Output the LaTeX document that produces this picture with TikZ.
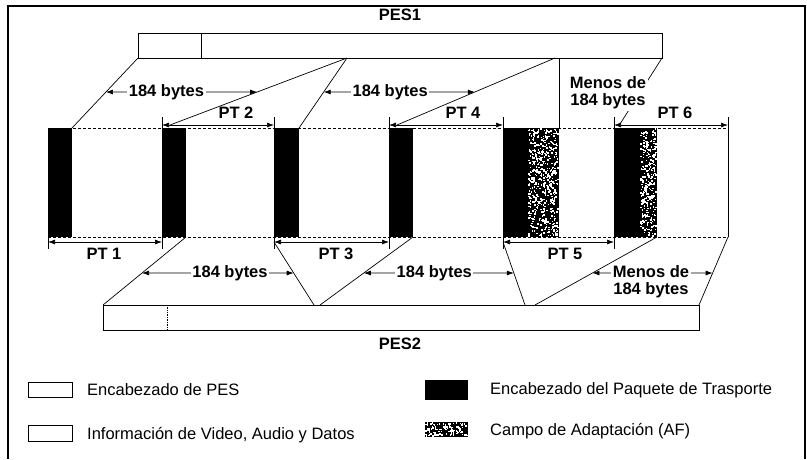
\documentclass[tikz,border=0pt]{standalone}
\usepackage{fontspec}
\setmainfont{Liberation Sans}
\usetikzlibrary{arrows.meta,positioning,calc}
\tikzstyle{bar}=[draw,line width=0.8pt,fill=white]
\tikzstyle{cut}=[line width=0.7pt]
\tikzstyle{tick}=[line width=0.7pt]
\tikzstyle{dim}=[line width=0.7pt,{Latex[length=7pt,width=5pt]}-{Latex[length=7pt,width=5pt]}]
\tikzstyle{lbl}=[font=\fontsize{16.5}{17}\selectfont\bfseries,inner sep=1.5pt,align=center]
\tikzstyle{cover}=[fill=white]
\tikzstyle{leg}=[font=\fontsize{16.5}{17}\selectfont,anchor=west,inner sep=0pt]

\begin{document}
\begin{tikzpicture}[x=1pt,y=-1pt]
\useasboundingbox (0,0) rectangle (807,459);
% frame
\draw[line width=1.2pt] (8,459) -- (8,6) -- (805,6) -- (805,459);

% PES1
\node[lbl] (pes1) at (400,15) {PES1};
\draw[bar] (138,33) rectangle (662,58);
\draw[line width=0.8pt] (201,33) -- (201,58);
\coordinate (a1) at (138,58);
\coordinate (a2) at (347,58);
\coordinate (a3) at (555,58);
\coordinate (a4) at (559,58);
\coordinate (a5) at (662,58);

% transport packets
\draw[densely dashed,line width=0.5pt] (48,128) -- (728,128) (48,237) -- (728,237);
\draw[line width=0.7pt] (728,128) -- (728,237);
\foreach \s/\e/\n in {48/72/1,162/186/2,274/299/3,389/413/4,503/528/5,614/640/6}{
  \fill (\s,128) rectangle (\e,237);
  \coordinate (s\n) at (\s,128);
  \coordinate (h\n) at (\e,128);
  \coordinate (sb\n) at (\s,237);
  \coordinate (hb\n) at (\e,237);
}
\coordinate (s7) at (728,128);
\coordinate (sb7) at (728,237);
% adaptation fields
\pgfmathsetseed{11}
\foreach \x/\w in {528/31,640/17,425/43}{
  \pgfmathsetmacro\yy{\x==425 ? 422 : 128}
  \pgfmathsetmacro\hh{\x==425 ? 15 : 109}
  \pgfmathtruncatemacro\nd{0.16*\w*\hh}
  \fill (\x,\yy) rectangle ++(\w,\hh);
  \foreach \k in {1,...,\nd}
    \fill[white] ({\x+(\w-1.5)*rnd},{\yy+(\hh-1.5)*rnd}) rectangle ++(1.5,1.5);
}
\coordinate (f5) at (559,128);
\coordinate (fb6) at (657,237);

% PT labels above
\foreach \a/\b/\t/\lx in {2/3/PT 2/236,4/5/PT 4/463,6/7/PT 6/675}{
  \draw[tick] ($(s\a)+(0,-11)$) -- ($(s\a)+(0,6)$);
  \draw[tick] ($(s\b)+(0,-11)$) -- ($(s\b)+(0,6)$);
  \draw[dim] ($(s\a)+(0,-3)$) -- ($(s\b)+(0,-3)$);
  \node[lbl] (pt\a) at (\lx,113) {\t};
}
% PT labels below
\foreach \a/\b/\t/\lx in {1/2/PT 1/104,3/4/PT 3/336,5/6/PT 5/565}{
  \draw[tick] ($(sb\a)+(0,-4)$) -- ($(sb\a)+(0,12)$);
  \draw[tick] ($(sb\b)+(0,-4)$) -- ($(sb\b)+(0,12)$);
  \draw[dim] ($(sb\a)+(0,5)$) -- ($(sb\b)+(0,5)$);
  \node[lbl] (pt\a) at (\lx,254) {\t};
}

% cuts from PES1
\coordinate (t2) at (170,125);
\coordinate (t4) at (397,125);
\coordinate (t6) at (620,124);
\draw[cut] (a1) -- (h1);
\draw[cut] (a2) -- (t2);
\draw[cut] (a2) -- (h3);
\draw[cut] (a3) -- (t4);
\draw[cut] (a4) -- (f5);
\draw[cut] (a5) -- (t6);
\coordinate (m1) at (0,92);
\coordinate (m2) at (807,92);
\draw[dim] (intersection of a1--h1 and m1--m2) -- node[lbl,cover,pos=0.40] (by1) {184 bytes} (intersection of a2--t2 and m1--m2);
\draw[dim] (intersection of a2--h3 and m1--m2) -- node[lbl,cover,pos=0.44] (by2) {184 bytes} (intersection of a3--t4 and m1--m2);
\node[lbl,cover,anchor=north] (mn1) at (608,75) {Menos de\\184 bytes};

% PES2
\draw[bar] (103,305) rectangle (699,330);
\draw[densely dotted,line width=0.7pt] (167,305) -- (167,330);
\node[lbl] (pes2) at (400,344) {PES2};
\coordinate (b1) at (103,305);
\coordinate (b2) at (314,305);
\coordinate (b3) at (320,305);
\coordinate (b4) at (525,305);
\coordinate (b5) at (535,305);
\coordinate (b6) at (699,305);
\coordinate (u3) at (274,242);
\coordinate (u5) at (503,242);
\draw[cut] (hb2) -- (b1);
\draw[cut] (u3) -- (b2);
\draw[cut] (hb4) -- (b3);
\draw[cut] (u5) -- (b4);
\draw[cut] (fb6) -- (b5);
\draw[cut] (sb7) -- (b6);
\coordinate (n1) at (0,273);
\coordinate (n2) at (807,273);
\draw[dim] (intersection of hb2--b1 and n1--n2) -- node[lbl,cover,pos=0.58] (by3) {184 bytes} (intersection of u3--b2 and n1--n2);
\draw[dim] (intersection of hb4--b3 and n1--n2) -- node[lbl,cover,pos=0.47] (by4) {184 bytes} (intersection of u5--b4 and n1--n2);
\draw[dim] (intersection of fb6--b5 and n1--n2) -- (intersection of sb7--b6 and n1--n2);
\node[lbl,cover,anchor=north] (mn2) at (651,264) {Menos de\\184 bytes};

% legend
\draw[line width=0.6pt] (28,382) rectangle (72,397);
\node[leg] (lg1) at (87,390) {Encabezado de PES};
\draw[line width=0.6pt] (28,425) rectangle (72,441);
\node[leg] (lg2) at (87,435) {Información de Video, Audio y Datos};
\fill (425,380) rectangle (468,400);
\node[leg] (lg3) at (490,390) {Encabezado del Paquete de Trasporte};
\node[leg] (lg4) at (490,431) {Campo de Adaptación (AF)};
\end{tikzpicture}
\end{document}
